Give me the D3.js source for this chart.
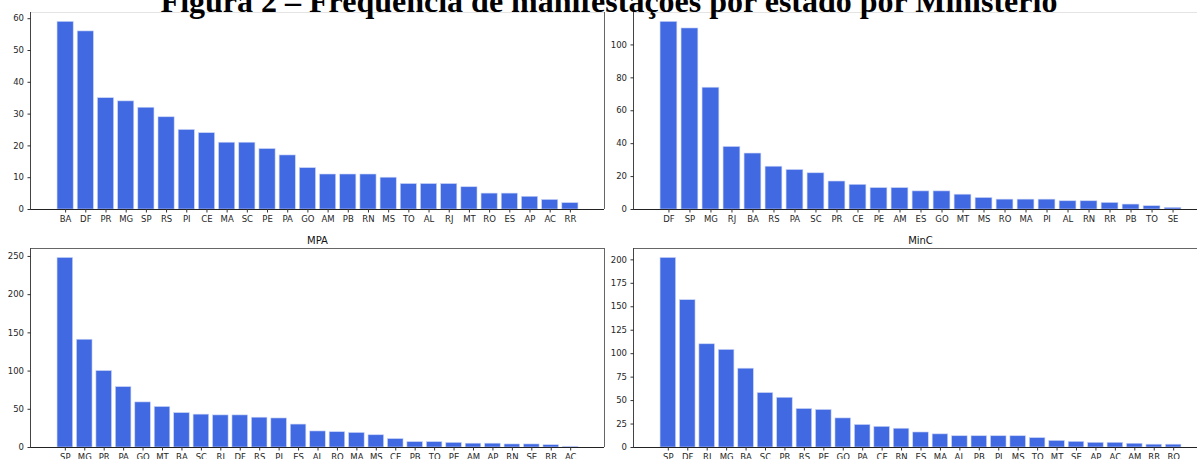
<!DOCTYPE html>
<html>
<head>
<meta charset="utf-8">
<script src="https://cdn.jsdelivr.net/npm/d3@7"></script>
<style>
  html, body { margin: 0; padding: 0; background: #fff; overflow: hidden; }
  svg { display: block; }
  .tick text { font-family: "DejaVu Sans", sans-serif; font-size: 8.5px; fill: #262626; }
</style>
</head>
<body>
<svg id="chart" width="1197" height="459"></svg>
<script>
// Frequency of complaints per state, one panel per ministry
const figureTitle = "Figura 2 – Frequência de manifestações por estado por Ministério";

const panelTitles = ["", "", "MPA", "MinC"];

const statesA = ["BA","DF","PR","MG","SP","RS","PI","CE","MA","SC","PE","PA","GO","AM","PB","RN","MS","TO","AL","RJ","MT","RO","ES","AP","AC","RR"];
const countsA = [59,56,35,34,32,29,25,24,21,21,19,17,13,11,11,11,10,8,8,8,7,5,5,4,3,2];

const statesB = ["DF","SP","MG","RJ","BA","RS","PA","SC","PR","CE","PE","AM","ES","GO","MT","MS","RO","MA","PI","AL","RN","RR","PB","TO","SE"];
const countsB = [114,110,74,38,34,26,24,22,17,15,13,13,11,11,9,7,6,6,6,5,5,4,3,2,1];

const statesMPA = ["SP","MG","PR","PA","GO","MT","BA","SC","RJ","DF","RS","PI","ES","AL","RO","MA","MS","CE","PB","TO","PE","AM","AP","RN","SE","RR","AC"];
const countsMPA = [248,141,100,79,59,53,45,43,42,42,39,38,30,21,20,19,16,11,7,7,6,5,5,4,4,3,1];

const statesMinC = ["SP","DF","RJ","MG","BA","SC","PR","RS","PE","GO","PA","CE","RN","ES","MA","AL","PB","PI","MS","TO","MT","SE","AP","AC","AM","RR","RO"];
const countsMinC = [202,157,110,104,84,58,53,41,40,31,24,22,20,16,14,12,12,12,12,10,7,6,5,5,4,3,3];

const yTicksA = [0,10,20,30,40,50,60];
const yTicksB = [0,20,40,60,80,100];
const yTicksMPA = [0,50,100,150,200,250];
const yTicksMinC = [0,25,50,75,100,125,150,175,200];

const svg = d3.select("#chart");

// axes boxes of the 2x2 grid
const boxes = [
  { x0: 31,  x1: 604,  y0: 12,  y1: 209, faintTop: true },
  { x0: 634, x1: 1207, y0: 12,  y1: 209, faintTop: true },
  { x0: 31,  x1: 604,  y0: 248, y1: 447, faintTop: false },
  { x0: 634, x1: 1207, y0: 248, y1: 447, faintTop: false }
];

const panels = [
  { cats: statesA,    vals: countsA,    ticks: yTicksA },
  { cats: statesB,    vals: countsB,    ticks: yTicksB },
  { cats: statesMPA,  vals: countsMPA,  ticks: yTicksMPA },
  { cats: statesMinC, vals: countsMinC, ticks: yTicksMinC }
];

panels.forEach((p, k) => {
  const b = boxes[k];
  const n = p.cats.length;
  const span = n - 0.2;               // bar extent from -0.4 to n-0.6
  const pad = 0.05 * span;
  const x = d3.scaleLinear().domain([-0.4 - pad, n - 0.6 + pad]).range([b.x0, b.x1]);
  const y = d3.scaleLinear().domain([0, d3.max(p.vals) * 1.05]).range([b.y1, b.y0]);

  const g = svg.append("g");

  // bars
  g.selectAll("rect.bar")
    .data(p.vals)
    .join("rect")
    .attr("class", "bar")
    .attr("x", (d, i) => x(i - 0.4))
    .attr("width", (d, i) => x(i + 0.4) - x(i - 0.4))
    .attr("y", d => y(d))
    .attr("height", d => y(0) - y(d))
    .attr("fill", "#4169e1")
    .attr("stroke", "#c9d4f6")
    .attr("stroke-width", 0.6);

  // frame
  const spine = "#444";
  g.append("line").attr("x1", b.x0).attr("x2", b.x1).attr("y1", b.y0 + 0.5).attr("y2", b.y0 + 0.5)
    .attr("stroke", b.faintTop ? "#e4e4e4" : "#666").attr("stroke-width", 1);
  g.append("line").attr("x1", b.x1 + 0.5).attr("x2", b.x1 + 0.5).attr("y1", b.y0).attr("y2", b.y1)
    .attr("stroke", "#666").attr("stroke-width", 1);

  // x axis
  const xAxis = d3.axisBottom(x)
    .tickValues(d3.range(n))
    .tickFormat(i => p.cats[i])
    .tickSizeInner(3.5).tickSizeOuter(0).tickPadding(3.5);
  const gx = g.append("g").attr("transform", `translate(0,${b.y1})`).call(xAxis);
  gx.select(".domain").attr("stroke", "#222").attr("d", `M${b.x0},0.5H${b.x1}`);
  gx.selectAll(".tick line").attr("stroke", "#333");

  // y axis
  const yAxis = d3.axisLeft(y)
    .tickValues(p.ticks)
    .tickFormat(d3.format("d"))
    .tickSizeInner(3.5).tickSizeOuter(0).tickPadding(3.5);
  const gy = g.append("g").attr("transform", `translate(${b.x0},0)`).call(yAxis);
  gy.select(".domain").attr("stroke", spine).attr("d", `M-0.5,${b.y0}V${b.y1}`);
  gy.selectAll(".tick line").attr("stroke", "#333");

  // panel title
  if (panelTitles[k]) {
    g.append("text")
      .attr("x", (b.x0 + b.x1) / 2)
      .attr("y", b.y0 - 4)
      .attr("text-anchor", "middle")
      .attr("font-family", "DejaVu Sans, sans-serif")
      .attr("font-size", 10)
      .attr("fill", "#111")
      .text(panelTitles[k]);
  }
});

// figure caption running across the top
svg.append("text")
  .attr("x", 609)
  .attr("y", 12)
  .attr("text-anchor", "middle")
  .attr("font-family", "Liberation Serif, Times New Roman, serif")
  .attr("font-weight", "bold")
  .attr("font-size", 32)
  .attr("fill", "#000")
  .text(figureTitle);
</script>
</body>
</html>
